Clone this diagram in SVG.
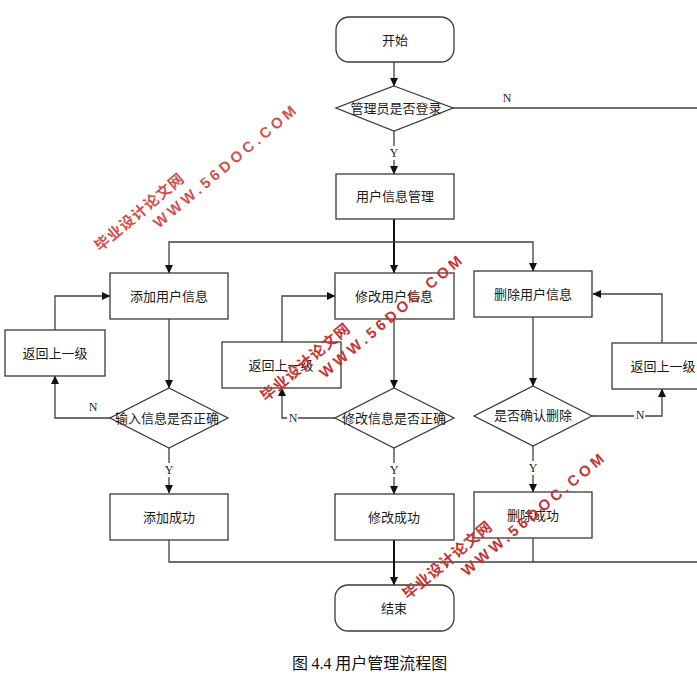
<svg xmlns="http://www.w3.org/2000/svg" width="697" height="688" viewBox="0 0 697 688">
<defs>
<style>
.n{fill:#fff;stroke:#3a3a3a;stroke-width:1.3}
.t{font-family:"Noto Sans CJK SC","Liberation Sans",sans-serif;font-size:13px;fill:#1a1a1a;text-anchor:middle;dominant-baseline:central}
.c{fill:none;stroke:#404040;stroke-width:1.3}
.ck{fill:none;stroke:#111;stroke-width:2}
.l{font-family:"Liberation Serif",serif;font-size:12px;fill:#222;text-anchor:middle;dominant-baseline:central}
.lb{fill:#fff}
.wz{font-family:"Noto Sans CJK SC",sans-serif;font-weight:bold;font-size:15px;fill:#c83232;letter-spacing:1px}
.we{font-family:"Liberation Sans",sans-serif;font-weight:bold;font-size:15px;fill:#c83232;letter-spacing:3.8px}
</style>
<marker id="a" markerUnits="userSpaceOnUse" markerWidth="9" markerHeight="9" refX="8" refY="4.5" orient="auto" viewBox="0 0 9 9">
<path d="M0,0.5 L8.5,4.5 L0,8.5 z" fill="#111"/>
</marker>
</defs>
<rect width="697" height="688" fill="#fff"/>

<g id="connectors">
<path class="c" d="M394,62 V86" marker-end="url(#a)"/>
<path class="c" d="M453,108 H697"/>
<path class="c" d="M394,131 V174" marker-end="url(#a)"/>
<path class="ck" d="M394,219 V273" marker-end="url(#a)"/>
<path class="c" d="M394,242 H169 V273" marker-end="url(#a)"/>
<path class="c" d="M394,242 H533 V271" marker-end="url(#a)"/>
<path class="c" d="M169,319 V388" marker-end="url(#a)"/>
<path class="c" d="M110,418 H55 V376" marker-end="url(#a)"/>
<path class="c" d="M55,330 V296 H110" marker-end="url(#a)"/>
<path class="c" d="M169,448 V493" marker-end="url(#a)"/>
<path class="c" d="M394,319 V388" marker-end="url(#a)"/>
<path class="c" d="M335,418 H282 V388" marker-end="url(#a)"/>
<path class="c" d="M282,342 V296 H335" marker-end="url(#a)"/>
<path class="c" d="M394,448 V494" marker-end="url(#a)"/>
<path class="c" d="M533,317 V386" marker-end="url(#a)"/>
<path class="c" d="M592,416 H662 V389" marker-end="url(#a)"/>
<path class="c" d="M662,343 V294 H593" marker-end="url(#a)"/>
<path class="c" d="M533,446 V492" marker-end="url(#a)"/>
<path class="c" d="M169,540 V562 H697"/>
<path class="c" d="M533,538 V562"/>
<path class="ck" d="M394,540 V585" marker-end="url(#a)"/>
<rect class="lb" x="389" y="146" width="10" height="14"/>
<text class="l" x="394" y="153">Y</text>
<rect class="lb" x="164" y="463" width="10" height="14"/>
<text class="l" x="169" y="470">Y</text>
<rect class="lb" x="389" y="463" width="10" height="14"/>
<text class="l" x="394" y="470">Y</text>
<rect class="lb" x="528" y="461" width="10" height="14"/>
<text class="l" x="533" y="468">Y</text>
<text class="l" x="507" y="98">N</text>
<text class="l" x="93" y="407">N</text>
<rect class="lb" x="287" y="412" width="11" height="12"/>
<text class="l" x="293" y="418">N</text>
<rect class="lb" x="634" y="409" width="11" height="12"/>
<text class="l" x="640" y="415">N</text>
</g>

<g id="start"><rect class="n" x="336" y="17" width="118" height="45" rx="13"/><text class="t" x="395" y="39">开始</text></g>
<g id="login"><polygon class="n" points="394,86 453,108 394,131 336,108"/><text class="t" x="396" y="107">管理员是否登录</text></g>
<g id="usermgmt"><rect class="n" x="336" y="174" width="118" height="45"/><text class="t" x="395" y="195">用户信息管理</text></g>

<g id="add"><rect class="n" x="110" y="273" width="118" height="46"/><text class="t" x="169" y="295">添加用户信息</text></g>
<g id="edit"><rect class="n" x="335" y="273" width="119" height="46"/><text class="t" x="394" y="295">修改用户信息</text></g>
<g id="del"><rect class="n" x="474" y="271" width="118" height="46"/><text class="t" x="533" y="293">删除用户信息</text></g>

<g id="back1"><rect class="n" x="5" y="330" width="100" height="46"/><text class="t" x="55" y="352">返回上一级</text></g>
<g id="back2"><rect class="n" x="222" y="342" width="119" height="46"/><text class="t" x="281" y="364">返回上一级</text></g>
<g id="back3"><rect class="n" x="612" y="343" width="102" height="46"/><text class="t" x="663" y="365">返回上一级</text></g>

<g id="chkadd"><polygon class="n" points="169,388 228,418 169,448 110,418"/><text class="t" x="167" y="417">输入信息是否正确</text></g>
<g id="chkedit"><polygon class="n" points="394,388 454,418 394,448 335,418"/><text class="t" x="394" y="417">修改信息是否正确</text></g>
<g id="chkdel"><polygon class="n" points="533,386 592,416 533,446 474,416"/><text class="t" x="533" y="414">是否确认删除</text></g>

<g id="addok"><rect class="n" x="110" y="494" width="118" height="46"/><text class="t" x="169" y="516">添加成功</text></g>
<g id="editok"><rect class="n" x="335" y="494" width="119" height="46"/><text class="t" x="394" y="516">修改成功</text></g>
<g id="delok"><rect class="n" x="474" y="492" width="118" height="46"/><text class="t" x="533" y="514">删除成功</text></g>

<g id="end"><rect class="n" x="335" y="585" width="119" height="46" rx="13"/><text class="t" x="394" y="607">结束</text></g>

<text x="292" y="669" font-family="Noto Sans CJK SC,sans-serif" font-size="16" fill="#111">图 <tspan font-family="Liberation Serif,serif">4.4</tspan> 用户管理流程图</text>

<g id="watermarks">
<g transform="translate(100,252) rotate(-40)" opacity="0.85"><text class="wz" x="0" y="0">毕业设计论文网</text><text class="we" x="60" y="20">WWW.56DOC.COM</text></g>
<g transform="translate(266,402) rotate(-40)"><text class="wz" x="0" y="0">毕业设计论文网</text><text class="we" x="60" y="20">WWW.56DOC.COM</text></g>
<g transform="translate(408,600) rotate(-40)"><text class="wz" x="0" y="0">毕业设计论文网</text><text class="we" x="60" y="20">WWW.56DOC.COM</text></g>
</g>
</svg>
